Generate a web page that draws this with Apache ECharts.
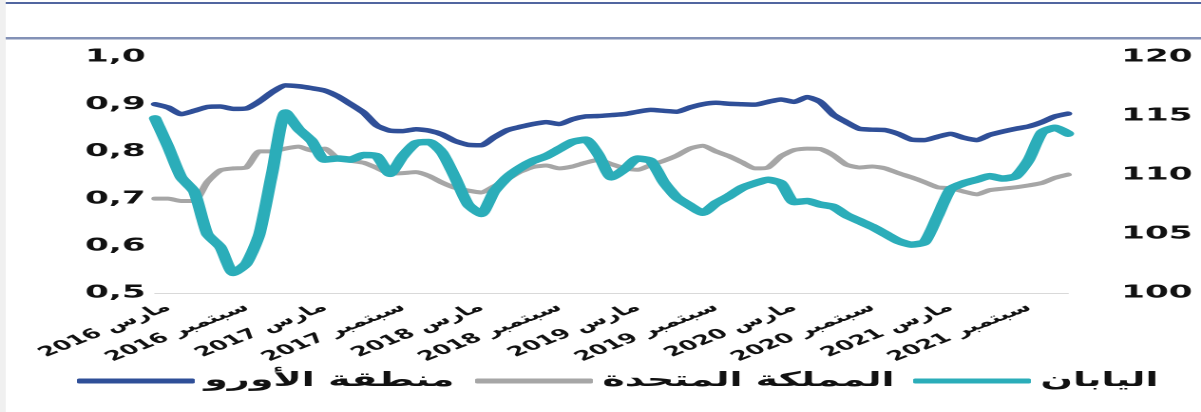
<!DOCTYPE html>
<html><head><meta charset="utf-8">
<script src="https://cdn.jsdelivr.net/npm/echarts@6/dist/echarts.min.js"></script>
<style>
html,body{margin:0;padding:0;overflow:hidden;background:#fff;}
#c{width:632px;height:412px;transform:scaleX(1.9003);transform-origin:0 0;}
</style></head>
<body><div id="c"></div>
<script>
const categories = [
 'فبراير 2016','مارس 2016','أبريل 2016','مايو 2016','يونيو 2016','يوليو 2016','أغسطس 2016','سبتمبر 2016','أكتوبر 2016','نوفمبر 2016','ديسمبر 2016',
 'يناير 2017','فبراير 2017','مارس 2017','أبريل 2017','مايو 2017','يونيو 2017','يوليو 2017','أغسطس 2017','سبتمبر 2017','أكتوبر 2017','نوفمبر 2017','ديسمبر 2017',
 'يناير 2018','فبراير 2018','مارس 2018','أبريل 2018','مايو 2018','يونيو 2018','يوليو 2018','أغسطس 2018','سبتمبر 2018','أكتوبر 2018','نوفمبر 2018','ديسمبر 2018',
 'يناير 2019','فبراير 2019','مارس 2019','أبريل 2019','مايو 2019','يونيو 2019','يوليو 2019','أغسطس 2019','سبتمبر 2019','أكتوبر 2019','نوفمبر 2019','ديسمبر 2019',
 'يناير 2020','فبراير 2020','مارس 2020','أبريل 2020','مايو 2020','يونيو 2020','يوليو 2020','أغسطس 2020','سبتمبر 2020','أكتوبر 2020','نوفمبر 2020','ديسمبر 2020',
 'يناير 2021','فبراير 2021','مارس 2021','أبريل 2021','مايو 2021','يونيو 2021','يوليو 2021','أغسطس 2021','سبتمبر 2021','أكتوبر 2021','نوفمبر 2021','ديسمبر 2021'
];
const seriesNames = ['منطقة الأورو','المملكة المتحدة','اليابان'];
const euroArea = [
 0.900,0.893,0.879,0.886,0.894,0.895,0.890,0.891,0.906,0.926,
 0.940,0.938,0.934,0.929,0.917,0.900,0.882,0.855,0.844,0.843,
 0.847,0.844,0.836,0.822,0.814,0.813,0.830,0.845,0.852,0.858,
 0.862,0.858,0.868,0.874,0.875,0.877,0.879,0.884,0.888,0.886,
 0.884,0.893,0.900,0.903,0.901,0.900,0.899,0.905,0.910,0.905,
 0.915,0.905,0.878,0.862,0.848,0.846,0.845,0.837,0.825,0.824,
 0.831,0.837,0.829,0.824,0.835,0.842,0.848,0.853,0.862,0.874,
 0.880];
const unitedKingdom = [
 0.700,0.700,0.695,0.695,0.735,0.760,0.764,0.766,0.800,0.800,
 0.806,0.810,0.802,0.806,0.785,0.780,0.776,0.765,0.753,0.754,
 0.756,0.748,0.734,0.723,0.717,0.713,0.726,0.741,0.757,0.767,
 0.770,0.764,0.768,0.776,0.782,0.773,0.764,0.761,0.771,0.780,
 0.791,0.806,0.812,0.800,0.790,0.777,0.764,0.766,0.790,0.803,
 0.806,0.805,0.792,0.772,0.766,0.768,0.764,0.754,0.745,0.735,
 0.724,0.722,0.715,0.709,0.718,0.721,0.724,0.728,0.733,0.744,
 0.751];
const japan = [
 114.8,112.4,109.8,108.6,105.0,103.9,101.7,102.5,105.0,110.3,
 115.3,113.9,112.9,111.3,111.4,111.3,111.7,111.6,110.1,111.6,
 112.7,112.8,111.9,109.8,107.5,106.7,108.6,109.8,110.6,111.2,
 111.6,112.2,112.8,113.0,111.7,109.8,110.5,111.4,111.2,109.4,
 108.1,107.4,106.8,107.6,108.2,108.9,109.3,109.6,109.3,107.7,
 107.8,107.5,107.3,106.6,106.1,105.6,105.0,104.4,104.1,104.3,
 106.5,108.8,109.3,109.6,109.9,109.7,109.9,111.3,113.6,114.0,
 113.5];
const leftTicks = {min:0.5, max:1.0, interval:0.1};
const rightTicks = {min:100, max:120, interval:5};

const colors = ['#2f4f98','#a6a6a6','#2badb9'];
const FONT = 'DejaVu Sans';
const chart = echarts.init(document.getElementById('c'), null, {renderer:'canvas', devicePixelRatio:2});

function legendFor(i, left){
  return {
    data:[seriesNames[i]], left:left, top:369, icon:'roundRect',
    itemWidth:62, itemHeight:5, itemGap:0, padding:0,
    itemStyle:{color:colors[i]},
    textStyle:{fontFamily:FONT, fontWeight:'bold', fontSize:20, color:'#111', lineHeight:24}
  };
}

chart.setOption({
  animation:false,
  backgroundColor:'#fff',
  graphic:[
    {type:'rect', left:0, top:0, shape:{width:3, height:412}, style:{fill:'#f0f0f0'}, silent:true},
    {type:'rect', left:3, top:2, shape:{width:629, height:2}, style:{fill:'#5166a0'}, silent:true},
    {type:'rect', left:3, top:37, shape:{width:629, height:2.5}, style:{fill:'#8391b6'}, silent:true}
  ],
  legend:[legendFor(0,40.5), legendFor(1,250), legendFor(2,480.5)],
  grid:{left:81.6, right:70, top:57, bottom:119, containLabel:false},
  xAxis:{
    type:'category', data:categories, boundaryGap:false,
    axisLine:{show:true, lineStyle:{color:'#d9d9d9', width:1}},
    axisTick:{show:false},
    splitLine:{show:false},
    axisLabel:{interval:function(idx){return idx % 6 === 1;}, rotate:36, margin:13, hideOverlap:false,
      fontFamily:FONT, fontWeight:'bold', fontSize:13.5, color:'#111'}
  },
  yAxis:[
    {type:'value', position:'left', min:leftTicks.min, max:leftTicks.max, interval:leftTicks.interval,
     axisLine:{show:false}, axisTick:{show:false}, splitLine:{show:false},
     axisLabel:{margin:5, fontFamily:FONT, fontWeight:'bold', fontSize:18, color:'#111',
       formatter:v=>v.toFixed(1).replace('.',',')}},
    {type:'value', position:'right', min:rightTicks.min, max:rightTicks.max, interval:rightTicks.interval,
     axisLine:{show:false}, axisTick:{show:false}, splitLine:{show:false},
     axisLabel:{margin:28, fontFamily:FONT, fontWeight:'bold', fontSize:18, color:'#111'}}
  ],
  series:[
    {name:seriesNames[0], type:'line', yAxisIndex:0, data:euroArea, showSymbol:false, smooth:0.2,
     lineStyle:{color:colors[0], width:4.5, cap:'round', join:'round'}, itemStyle:{color:colors[0]}},
    {name:seriesNames[1], type:'line', yAxisIndex:0, data:unitedKingdom, showSymbol:false, smooth:0.2,
     lineStyle:{color:colors[1], width:4, cap:'round', join:'round'}, itemStyle:{color:colors[1]}},
    {name:seriesNames[2], type:'line', yAxisIndex:1, data:japan, showSymbol:false, smooth:0.2,
     lineStyle:{color:colors[2], width:6.5, cap:'round', join:'round'}, itemStyle:{color:colors[2]}}
  ]
});
</script></body></html>
